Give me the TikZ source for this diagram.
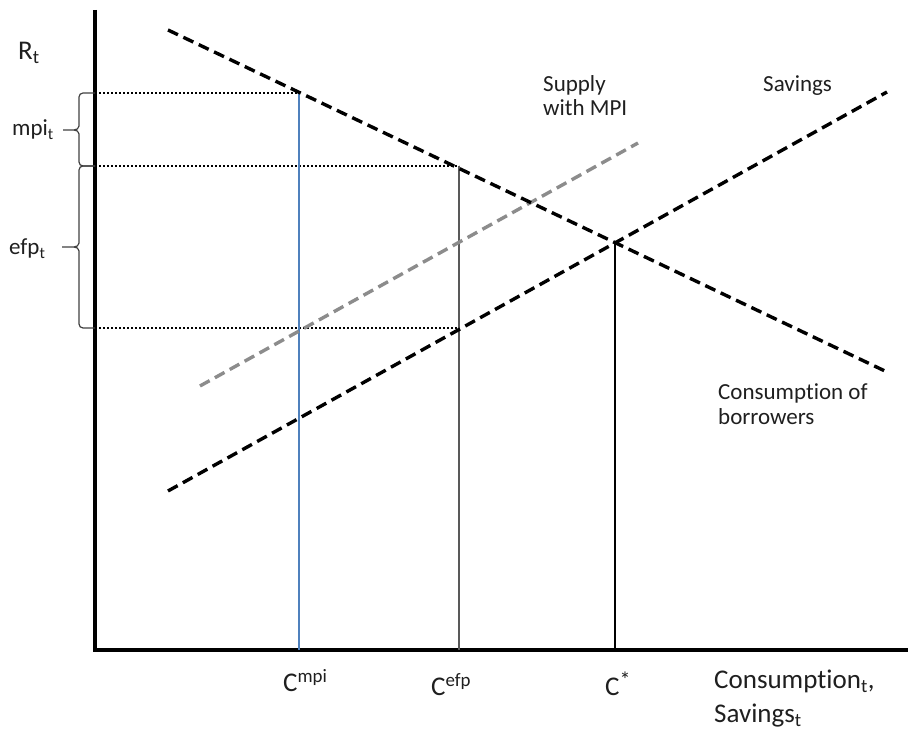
\documentclass[tikz,border=0pt]{standalone}
\usepackage{fontspec}
\setmainfont{Carlito}[Ligatures=NoCommon]
\begin{document}
\begin{tikzpicture}[x=1pt,y=1pt,
  axisline/.style={line width=3.6pt},
  curve/.style={line width=3.4pt,dash pattern=on 11pt off 6pt},
  grey curve/.style={curve,color=black!45},
  guide/.style={line width=1.8pt,dash pattern=on 1.8pt off 2.2pt},
  dropline/.style={line width=1.1pt},
  bracket/.style={line width=1.2pt,color=black!75},
  lab/.style={inner sep=0pt,anchor=base west,text=black!88,font=\fontsize{23}{27}\selectfont},
  biglab/.style={lab,font=\fontsize{27}{32}\selectfont}]
\useasboundingbox (0,0) rectangle (908,733);

% axes
\coordinate (top) at (95,723);
\coordinate (O) at (95,83);
\coordinate (xend) at (908,83);
\draw[axisline] (top) -- (O) -- (xend);

% curve end points
\coordinate (d1) at (168,703);
\coordinate (d2) at (887,361);
\coordinate (s1) at (168,242);
\coordinate (s2) at (887,641);
\coordinate (g1) at (200,347);
\coordinate (g2) at (638,590);

% equilibrium points
\coordinate (Pmpi) at (299,640);
\coordinate (Pefp) at (459,567);
\coordinate (Qefp) at (459,405);
\coordinate (Pstar) at (615,491);

% feet on the horizontal axis
\coordinate (Fmpi) at (299,83);
\coordinate (Fefp) at (459,83);
\coordinate (Fstar) at (615,83);

% feet on the vertical axis
\coordinate (Ympi) at (95,640);
\coordinate (Yefp) at (95,567);
\coordinate (Ylow) at (95,405);

% guide lines
\draw[guide] (Ympi) -- (Pmpi);
\draw[guide] (Yefp) -- (Pefp);
\draw[guide] (Ylow) -- (Qefp);

% vertical drop lines
\draw[dropline,color={rgb,255:red,79;green,129;blue,189}] (Pmpi) -- (Fmpi);
\draw[dropline,color=black!65] (Pefp) -- (Fefp);
\draw[dropline] (Pstar) -- (Fstar);

% curves
\draw[grey curve] (g1) -- (g2);
\draw[curve] (s1) -- (s2);
\draw[curve] (d1) -- (d2);

% braces on the vertical axis
\draw[bracket] (95,640) -- (83,640) to[out=180,in=90] (79,636) -- (79,607)
  to[out=-90,in=0] (74,603) -- (63,603);
\draw[bracket] (74,603) to[out=0,in=90] (79,599) -- (79,571)
  to[out=-90,in=180] (83,567) -- (95,567);
\draw[bracket] (95,567) -- (83,567) to[out=180,in=90] (79,563) -- (79,490)
  to[out=-90,in=0] (74,486) -- (62,486);
\draw[bracket] (74,486) to[out=0,in=90] (79,482) -- (79,409)
  to[out=-90,in=180] (83,405) -- (95,405);

% labels
\node[biglab] (R) at (18,673) {R\textsubscript{t}};
\node[lab] (mpi) at (12,597) {mpi\textsubscript{t}};
\node[lab] (efp) at (9,478) {efp\textsubscript{t}};

\node[biglab] (cmpi) at (283,41) {C\textsuperscript{mpi}};
\node[biglab] (cefp) at (431,37) {C\textsuperscript{efp}};
\node[biglab] (cstar) at (605,37) {C\raisebox{8pt}{\fontsize{22}{22}\selectfont *}};

\node[biglab] (xlab1) at (714,44) {Consumption\textsubscript{t},};
\node[biglab] (xlab2) at (714,10) {Savings\textsubscript{t}};

\node[lab] (sup1) at (543,641) {Supply};
\node[lab] (sup2) at (543,617) {with MPI};
\node[lab] (sav) at (763,641) {Savings};
\node[lab] (cb1) at (718,333) {Consumption of};
\node[lab] (cb2) at (718,308) {borrowers};
\end{tikzpicture}
\end{document}
